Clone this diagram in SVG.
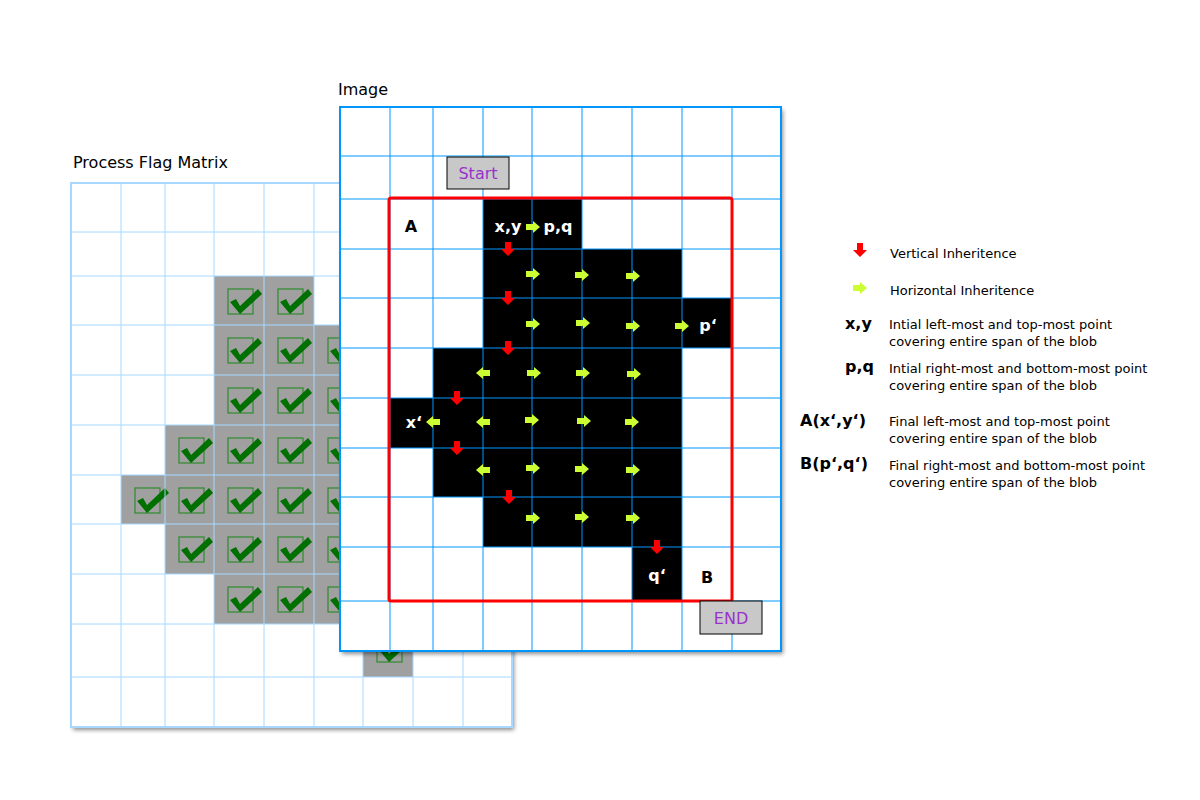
<svg xmlns="http://www.w3.org/2000/svg" xmlns:xlink="http://www.w3.org/1999/xlink" width="1200" height="800" viewBox="0 0 1200 800">
<style>
text{font-family:"DejaVu Sans","Liberation Sans",sans-serif}
.t{font-size:16px;fill:#000}
.lb{font-size:16px;font-weight:bold;fill:#fff}
.bk{font-size:16px;font-weight:bold;fill:#000}
.lg{font-size:13px;fill:#000}
.fl{stroke:#a8d8ff;stroke-width:1;fill:none}
.il{stroke:#0096ff;stroke-width:1;fill:none}
.g{fill:#a0a0a0}
.k{fill:#000}
.btn{fill:#c8c8c8;stroke:#000;stroke-width:1}
.bt{font-size:16px;fill:#9932cc}
</style>
<defs>
<filter id="sh" x="-5%" y="-5%" width="115%" height="115%"><feDropShadow dx="2" dy="3" stdDeviation="2" flood-color="#000" flood-opacity="0.45"/></filter>
<g id="chk"><rect x="14" y="13" width="25" height="25" fill="none" stroke="#2e8b2e" stroke-width="1.2"/><path d="M16 26 L22 23 L26 30 L44 13 L48 18 L26 38 Z" fill="#007000"/></g>
<path id="ra" d="M-3 -7 H3 V0 H7 L0 7 L-7 0 H-3 Z" fill="#f00"/>
<path id="ga" d="M-7 -3 H0 V-6 L7 0 L0 6 V3 H-7 Z" fill="#ccff33"/>
<path id="la" d="M7 -3 H0 V-6 L-7 0 L0 6 V3 H7 Z" fill="#ccff33"/>
</defs>
<rect width="1200" height="800" fill="#fff"/>
<text class="t" x="73" y="168">Process Flag Matrix</text>
<text class="t" x="338" y="95">Image</text>
<g id="flagMatrix">
<rect x="71" y="183" width="441" height="544" fill="#fff" filter="url(#sh)"/>
<g class="g">
<rect x="214" y="276" width="100" height="49"/>
<rect x="214" y="325" width="149" height="50"/>
<rect x="214" y="375" width="149" height="50"/>
<rect x="165" y="425" width="198" height="50"/>
<rect x="121" y="475" width="242" height="49"/>
<rect x="165" y="524" width="198" height="50"/>
<rect x="214" y="574" width="149" height="50"/>
<rect x="363" y="624" width="50" height="53"/>
</g>
<use xlink:href="#chk" x="214" y="276"/><use xlink:href="#chk" x="264" y="276"/>
<use xlink:href="#chk" x="214" y="325"/><use xlink:href="#chk" x="264" y="325"/><use xlink:href="#chk" x="314" y="325"/>
<use xlink:href="#chk" x="214" y="375"/><use xlink:href="#chk" x="264" y="375"/><use xlink:href="#chk" x="314" y="375"/>
<use xlink:href="#chk" x="165" y="425"/><use xlink:href="#chk" x="214" y="425"/><use xlink:href="#chk" x="264" y="425"/><use xlink:href="#chk" x="314" y="425"/>
<use xlink:href="#chk" x="121" y="475"/><use xlink:href="#chk" x="165" y="475"/><use xlink:href="#chk" x="214" y="475"/><use xlink:href="#chk" x="264" y="475"/><use xlink:href="#chk" x="314" y="475"/>
<use xlink:href="#chk" x="165" y="524"/><use xlink:href="#chk" x="214" y="524"/><use xlink:href="#chk" x="264" y="524"/><use xlink:href="#chk" x="314" y="524"/>
<use xlink:href="#chk" x="214" y="574"/><use xlink:href="#chk" x="264" y="574"/><use xlink:href="#chk" x="314" y="574"/>
<use xlink:href="#chk" x="363" y="624"/>
<path class="fl" d="M121 183V727M165 183V727M214 183V727M264 183V727M314 183V727M363 183V727M413 183V727M463 183V727M71 232H512M71 276H512M71 325H512M71 375H512M71 425H512M71 475H512M71 524H512M71 574H512M71 624H512M71 677H512"/>
<rect x="71" y="183" width="441" height="544" fill="none" stroke="#a8d8ff" stroke-width="2"/>
</g>
<g id="image">
<rect x="340" y="107" width="441" height="544" fill="#fff" filter="url(#sh)"/>
<g class="k">
<rect x="483" y="199" width="99" height="50"/>
<rect x="483" y="249" width="199" height="49"/>
<rect x="483" y="298" width="249" height="50"/>
<rect x="433" y="348" width="249" height="50"/>
<rect x="390" y="398" width="292" height="50"/>
<rect x="433" y="448" width="249" height="49"/>
<rect x="483" y="497" width="199" height="50"/>
<rect x="632" y="547" width="50" height="54"/>
</g>
<path class="il" d="M390 107V651M433 107V651M483 107V651M532 107V651M582 107V651M632 107V651M682 107V651M732 107V651M340 156H781M340 199H781M340 249H781M340 298H781M340 348H781M340 398H781M340 448H781M340 497H781M340 547H781M340 601H781"/>
<rect x="340" y="107" width="441" height="544" fill="none" stroke="#0096ff" stroke-width="2"/>
</g>
<g id="connectors">
<use xlink:href="#ra" x="508" y="249"/><use xlink:href="#ra" x="508" y="298"/><use xlink:href="#ra" x="508" y="348"/>
<use xlink:href="#ra" x="457" y="398"/><use xlink:href="#ra" x="457" y="448"/><use xlink:href="#ra" x="509" y="497"/><use xlink:href="#ra" x="657" y="547"/>
<use xlink:href="#ga" x="533" y="227"/>
<use xlink:href="#ga" x="533" y="274"/><use xlink:href="#ga" x="582" y="275"/><use xlink:href="#ga" x="633" y="276"/>
<use xlink:href="#ga" x="533" y="324"/><use xlink:href="#ga" x="583" y="323"/><use xlink:href="#ga" x="633" y="326"/><use xlink:href="#ga" x="682" y="326"/>
<use xlink:href="#la" x="483" y="373"/><use xlink:href="#ga" x="534" y="373"/><use xlink:href="#ga" x="583" y="373"/><use xlink:href="#ga" x="634" y="374"/>
<use xlink:href="#la" x="433" y="422"/><use xlink:href="#la" x="483" y="422"/><use xlink:href="#ga" x="532" y="420"/><use xlink:href="#ga" x="584" y="421"/><use xlink:href="#ga" x="632" y="422"/>
<use xlink:href="#la" x="483" y="470"/><use xlink:href="#ga" x="533" y="468"/><use xlink:href="#ga" x="582" y="469"/><use xlink:href="#ga" x="633" y="470"/>
<use xlink:href="#ga" x="533" y="518"/><use xlink:href="#ga" x="582" y="517"/><use xlink:href="#ga" x="633" y="518"/>
</g>
<rect x="389" y="198" width="343" height="403" rx="2" fill="none" stroke="#f00" stroke-width="3"/>
<g id="labels">
<text class="bk" x="411" y="232" text-anchor="middle">A</text>
<text class="lb" x="508" y="232" text-anchor="middle">x,y</text>
<text class="lb" x="558" y="232" text-anchor="middle">p,q</text>
<text class="lb" x="708" y="331" text-anchor="middle">p‘</text>
<text class="lb" x="414" y="428" text-anchor="middle">x‘</text>
<text class="lb" x="657" y="581" text-anchor="middle">q‘</text>
<text class="bk" x="707" y="583" text-anchor="middle">B</text>
</g>
<g id="start"><rect class="btn" x="447" y="157" width="62" height="32"/><text class="bt" x="478" y="179" text-anchor="middle">Start</text></g>
<g id="end"><rect class="btn" x="700" y="601" width="62" height="33"/><text class="bt" x="731" y="624" text-anchor="middle">END</text></g>
<g id="legend">
<use xlink:href="#ra" x="860" y="250"/><text class="lg" x="890" y="258">Vertical Inheritence</text>
<use xlink:href="#ga" x="860" y="288"/><text class="lg" x="890" y="295">Horizontal Inheritence</text>
<text class="bk" x="845" y="329">x,y</text><text class="lg" x="889" y="329">Intial left-most and top-most point</text><text class="lg" x="889" y="346">covering entire span of the blob</text>
<text class="bk" x="845" y="372">p,q</text><text class="lg" x="889" y="373">Intial right-most and bottom-most point</text><text class="lg" x="889" y="390">covering entire span of the blob</text>
<text class="bk" x="800" y="426">A(x‘,y‘)</text><text class="lg" x="889" y="426">Final left-most and top-most point</text><text class="lg" x="889" y="443">covering entire span of the blob</text>
<text class="bk" x="800" y="469">B(p‘,q‘)</text><text class="lg" x="889" y="470">Final right-most and bottom-most point</text><text class="lg" x="889" y="487">covering entire span of the blob</text>
</g>
</svg>
